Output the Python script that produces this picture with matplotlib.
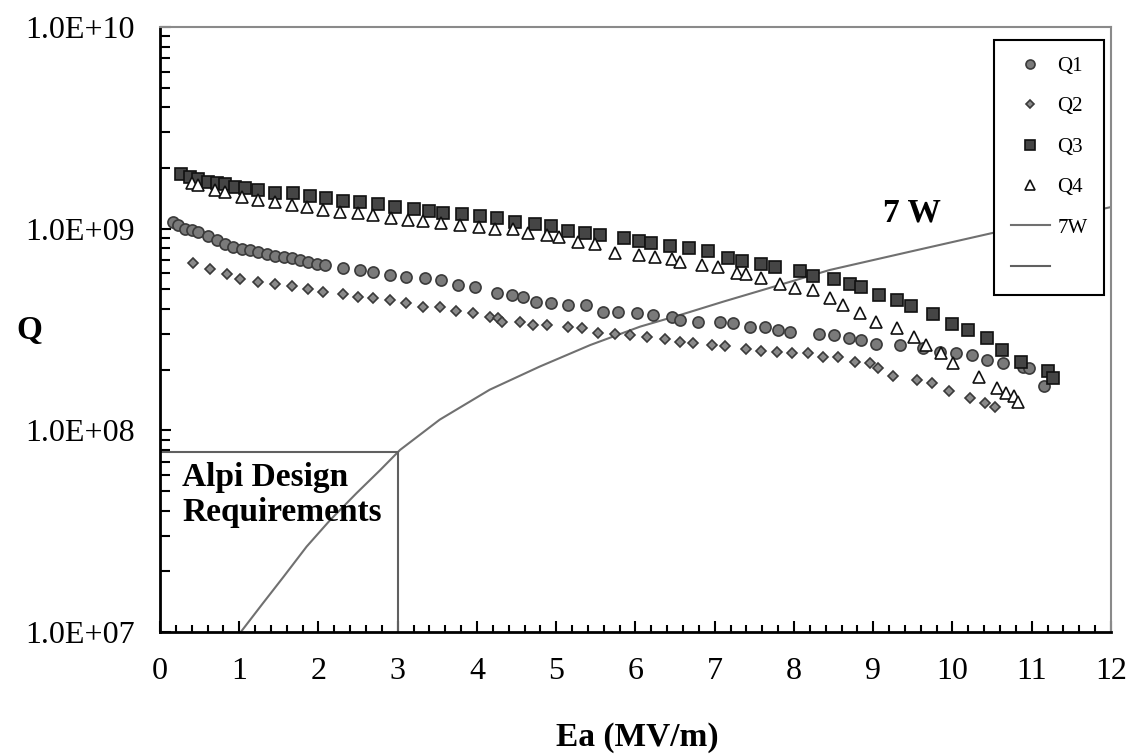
import matplotlib
matplotlib.use('Agg')
import matplotlib.pyplot as plt
from matplotlib.lines import Line2D
from matplotlib.ticker import FuncFormatter, LogLocator, MultipleLocator, NullFormatter

plt.rcParams['font.family'] = ['Liberation Serif', 'DejaVu Serif']

# Q1 (circles)
q1_ea = [0.17, 0.23, 0.32, 0.40, 0.48, 0.61, 0.72, 0.82, 0.92, 1.03, 1.14, 1.24, 1.35, 1.45, 1.56,
         1.66, 1.77, 1.87, 1.98, 2.08, 2.31, 2.52, 2.69, 2.90, 3.11, 3.34, 3.55, 3.76, 3.97, 4.25,
         4.44, 4.58, 4.75, 4.94, 5.15, 5.38, 5.59, 5.78, 6.02, 6.22, 6.46, 6.56, 6.79, 7.07, 7.23,
         7.44, 7.63, 7.80, 7.95, 8.31, 8.50, 8.69, 8.85, 9.04, 9.34, 9.63, 9.84, 10.05, 10.24, 10.43,
         10.64, 10.89, 10.96, 11.15]
q1 = [1.08e9, 1.04e9, 1.00e9, 9.86e8, 9.67e8, 9.20e8, 8.79e8, 8.40e8, 8.09e8, 7.91e8, 7.84e8, 7.69e8,
      7.49e8, 7.32e8, 7.27e8, 7.13e8, 7.00e8, 6.86e8, 6.68e8, 6.61e8, 6.36e8, 6.24e8, 6.12e8, 5.89e8,
      5.78e8, 5.67e8, 5.57e8, 5.26e8, 5.12e8, 4.79e8, 4.69e8, 4.57e8, 4.35e8, 4.27e8, 4.19e8, 4.19e8,
      3.88e8, 3.88e8, 3.81e8, 3.73e8, 3.66e8, 3.53e8, 3.46e8, 3.46e8, 3.40e8, 3.27e8, 3.27e8, 3.15e8,
      3.09e8, 3.01e8, 2.97e8, 2.86e8, 2.81e8, 2.68e8, 2.65e8, 2.55e8, 2.46e8, 2.41e8, 2.36e8, 2.23e8,
      2.15e8, 2.07e8, 2.03e8, 1.65e8]

# Q2 (diamonds)
q2_ea = [0.42, 0.63, 0.84, 1.01, 1.24, 1.45, 1.66, 1.87, 2.06, 2.31, 2.50, 2.69, 2.90, 3.11, 3.32,
         3.53, 3.74, 3.95, 4.16, 4.27, 4.31, 4.54, 4.71, 4.88, 5.15, 5.32, 5.53, 5.74, 5.93, 6.14,
         6.37, 6.56, 6.73, 6.96, 7.13, 7.40, 7.59, 7.78, 7.97, 8.18, 8.37, 8.56, 8.77, 8.96, 9.06,
         9.25, 9.55, 9.74, 9.95, 10.22, 10.41, 10.54]
q2 = [6.73e8, 6.29e8, 5.96e8, 5.61e8, 5.46e8, 5.30e8, 5.20e8, 5.01e8, 4.88e8, 4.75e8, 4.60e8, 4.52e8,
      4.43e8, 4.30e8, 4.10e8, 4.07e8, 3.92e8, 3.81e8, 3.66e8, 3.60e8, 3.46e8, 3.46e8, 3.33e8, 3.33e8,
      3.27e8, 3.21e8, 3.03e8, 3.01e8, 2.97e8, 2.90e8, 2.83e8, 2.75e8, 2.72e8, 2.65e8, 2.63e8, 2.53e8,
      2.48e8, 2.46e8, 2.43e8, 2.41e8, 2.32e8, 2.30e8, 2.19e8, 2.15e8, 2.03e8, 1.85e8, 1.78e8, 1.71e8,
      1.57e8, 1.44e8, 1.37e8, 1.31e8]

# Q3 (squares)
q3_ea = [0.27, 0.38, 0.48, 0.61, 0.72, 0.82, 0.95, 1.07, 1.24, 1.45, 1.68, 1.89, 2.10, 2.31, 2.52,
         2.75, 2.97, 3.20, 3.39, 3.57, 3.81, 4.04, 4.25, 4.48, 4.73, 4.94, 5.15, 5.36, 5.55, 5.85,
         6.04, 6.20, 6.44, 6.67, 6.92, 7.17, 7.34, 7.59, 7.76, 8.08, 8.24, 8.50, 8.71, 8.85, 9.07,
         9.30, 9.48, 9.76, 10.00, 10.20, 10.43, 10.62, 10.87, 11.21, 11.27]
q3 = [1.87e9, 1.81e9, 1.76e9, 1.71e9, 1.69e9, 1.66e9, 1.61e9, 1.59e9, 1.56e9, 1.50e9, 1.50e9, 1.45e9,
      1.42e9, 1.37e9, 1.36e9, 1.32e9, 1.28e9, 1.25e9, 1.22e9, 1.20e9, 1.18e9, 1.15e9, 1.13e9, 1.08e9,
      1.06e9, 1.03e9, 9.77e8, 9.48e8, 9.30e8, 8.96e8, 8.69e8, 8.47e8, 8.21e8, 8.00e8, 7.78e8, 7.13e8,
      6.94e8, 6.68e8, 6.44e8, 6.19e8, 5.83e8, 5.61e8, 5.32e8, 5.13e8, 4.69e8, 4.43e8, 4.14e8, 3.77e8,
      3.36e8, 3.15e8, 2.86e8, 2.51e8, 2.17e8, 1.98e8, 1.81e8]

# Q4 (triangles)
q4_ea = [0.40, 0.48, 0.69, 0.82, 1.03, 1.24, 1.45, 1.66, 1.85, 2.06, 2.27, 2.50, 2.69, 2.92, 3.13,
         3.32, 3.55, 3.79, 4.02, 4.23, 4.46, 4.65, 4.88, 5.03, 5.28, 5.49, 5.74, 6.04, 6.25, 6.46,
         6.56, 6.84, 7.04, 7.28, 7.40, 7.59, 7.82, 8.01, 8.24, 8.45, 8.62, 8.83, 9.04, 9.30, 9.51,
         9.67, 9.86, 10.01, 10.33, 10.56, 10.68, 10.77, 10.83]
q4 = [1.68e9, 1.65e9, 1.56e9, 1.52e9, 1.44e9, 1.39e9, 1.35e9, 1.31e9, 1.28e9, 1.24e9, 1.21e9, 1.19e9,
      1.17e9, 1.13e9, 1.10e9, 1.09e9, 1.07e9, 1.04e9, 1.02e9, 9.93e8, 1.00e9, 9.48e8, 9.30e8, 9.12e8,
      8.62e8, 8.40e8, 7.55e8, 7.41e8, 7.27e8, 7.05e8, 6.86e8, 6.61e8, 6.44e8, 6.01e8, 5.96e8, 5.67e8,
      5.32e8, 5.07e8, 4.97e8, 4.52e8, 4.19e8, 3.81e8, 3.46e8, 3.21e8, 2.92e8, 2.65e8, 2.41e8, 2.15e8,
      1.83e8, 1.62e8, 1.53e8, 1.48e8, 1.39e8]

# 7 W dissipated power curve
w7_ea = [1.02, 1.30, 1.56, 1.85, 2.15, 2.48, 2.78, 3.03, 3.53, 4.16, 4.79, 5.43, 6.06, 6.56,
         7.11, 7.74, 8.45, 9.5, 10.56, 12.0]
w7_q = [1.0e7, 1.39e7, 1.88e7, 2.65e7, 3.6e7, 4.88e7, 6.36e7, 8.0e7, 1.13e8, 1.59e8, 2.07e8,
        2.65e8, 3.27e8, 3.73e8, 4.35e8, 5.15e8, 6.24e8, 7.75e8, 9.63e8, 1.28e9]

# Alpi design requirement box
alpi_ea = [0, 3, 3]
alpi_q = [7.8e7, 7.8e7, 1e7]

fig = plt.figure(figsize=(11.36, 7.55), dpi=100)
ax = fig.add_axes([0.1408, 0.1629, 0.8372, 0.8013])

ax.plot(q1_ea, q1, 'o', ms=8, mfc='#7a7a7a', mec='#3a3a3a', mew=1.2, zorder=3)
ax.plot(q2_ea, q2, 'D', ms=5.5, mfc='#8a8a8a', mec='#3a3a3a', mew=1.2, zorder=3)
ax.plot(q3_ea, q3, 's', ms=8.5, mfc='#454545', mec='#111111', mew=1.2, zorder=3)
ax.plot(q4_ea, q4, '^', ms=8, mfc='white', mec='#111111', mew=1.2, zorder=3)
ax.plot(w7_ea, w7_q, '-', color='#707070', lw=1.5, zorder=2)
ax.plot(alpi_ea, alpi_q, '-', color='#606060', lw=1.5, zorder=2)

ax.set_yscale('log')
ax.set_xlim(0, 12)
ax.set_ylim(1e7, 1e10)

ax.set_xticks(range(0, 13))
ax.xaxis.set_minor_locator(MultipleLocator(0.2))
ax.set_yticks([1e7, 1e8, 1e9, 1e10])
ax.yaxis.set_minor_locator(LogLocator(base=10, subs=range(2, 10)))
ax.yaxis.set_minor_formatter(NullFormatter())
ax.yaxis.set_major_formatter(FuncFormatter(lambda v, p: '%.1E' % v))

ax.tick_params(axis='both', which='both', direction='in', width=1.5, colors='black', labelsize=23)
ax.tick_params(axis='x', which='major', length=8, pad=18)
ax.tick_params(axis='x', which='minor', length=5)
ax.tick_params(axis='y', which='major', length=8, pad=18)
ax.tick_params(axis='y', which='minor', length=7)

for s in ['left', 'bottom']:
    ax.spines[s].set_color('black')
    ax.spines[s].set_linewidth(2)
for s in ['top', 'right']:
    ax.spines[s].set_color('#8a8a8a')
    ax.spines[s].set_linewidth(1.5)

ax.set_xlabel('Ea (MV/m)', fontsize=24, fontweight='bold', va='center')
ax.xaxis.set_label_coords(0.502, -0.175)
ax.set_ylabel('Q', fontsize=24, fontweight='bold', rotation=0, va='center', ha='center')
ax.yaxis.set_label_coords(-0.137, 0.499)

ax.text(0.28, 7.0e7, 'Alpi Design\nRequirements', fontsize=24, fontweight='bold', va='top', ha='left')
ax.text(9.49, 1.2e9, '7 W', fontsize=24, fontweight='bold', va='center', ha='center')

handles = [
    Line2D([], [], ls='', marker='o', ms=6.5, mfc='#7a7a7a', mec='#3a3a3a', mew=1.2),
    Line2D([], [], ls='', marker='D', ms=4.5, mfc='#8a8a8a', mec='#3a3a3a', mew=1.2),
    Line2D([], [], ls='', marker='s', ms=7.5, mfc='#454545', mec='#111111', mew=1.2),
    Line2D([], [], ls='', marker='^', ms=7, mfc='white', mec='#111111', mew=1.2),
    Line2D([], [], color='#707070', lw=1.5),
    Line2D([], [], color='#606060', lw=1.5),
]
labels = ['Q1', 'Q2', 'Q3', 'Q4', '7W', '']
leg = ax.legend(handles, labels, loc='upper right', bbox_to_anchor=(0.993, 0.979),
                fontsize=15, frameon=True, fancybox=False, framealpha=1, edgecolor='black',
                handlelength=1.9, handletextpad=0.35, labelspacing=1.0, borderpad=0.8,
                borderaxespad=0)
leg.get_frame().set_linewidth(1.5)
leg.set_zorder(5)

fig.savefig('out.png', dpi=100)
